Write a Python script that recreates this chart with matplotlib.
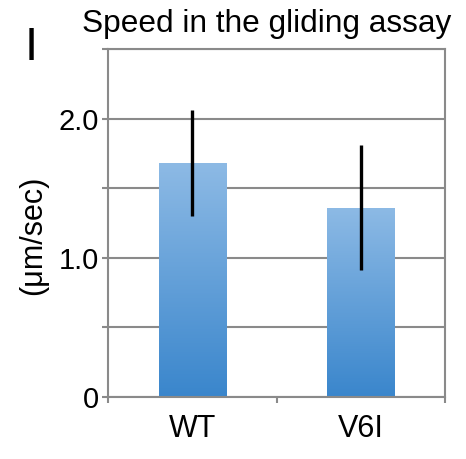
import numpy as np
import matplotlib
matplotlib.use("Agg")
import matplotlib.pyplot as plt
from matplotlib.colors import LinearSegmentedColormap

plt.rcParams["font.family"] = ["Liberation Sans", "DejaVu Sans"]

# data
categories = ["WT", "V6I"]
speed = [1.68, 1.36]
speed_err = [0.38, 0.45]
y_ticks = [0, 0.5, 1.0, 1.5, 2.0, 2.5]
y_ticklabels = ["0", "", "1.0", "", "2.0", ""]

GRID = "#8a8a8a"
grad = LinearSegmentedColormap.from_list("bar", ["#3a86cc", "#8dbae5"])

fig = plt.figure(figsize=(4.66, 4.59), dpi=100)
ax = fig.add_axes([0.2318, 0.1351, 0.7232, 0.7582])

x = np.arange(len(categories))
bars = ax.bar(x, speed, width=0.4, color="none", edgecolor="none", zorder=2)
grad_img = np.linspace(0, 1, 256).reshape(-1, 1)
for b in bars:
    x0, w, h = b.get_x(), b.get_width(), b.get_height()
    im = ax.imshow(grad_img, cmap=grad, origin="lower", aspect="auto",
                   extent=(x0, x0 + w, 0, h), zorder=2)
    im.set_clip_path(b)
ax.errorbar(x, speed, yerr=speed_err, fmt="none", ecolor="black", elinewidth=2.4,
            capsize=0, zorder=3)

ax.set_xlim(-0.5, len(categories) - 0.5)
ax.set_ylim(0, 2.5)
ax.set_yticks(y_ticks)
ax.set_yticklabels(y_ticklabels, fontsize=21)
ax.set_xticks(x)
ax.set_xticklabels(categories, fontsize=22)
ax.set_xticks([-0.5, 0.5, 1.5], minor=True)
ax.tick_params(axis="x", which="major", length=0, pad=12)
ax.tick_params(axis="x", which="minor", length=4.5, color=GRID, width=1.5)
ax.tick_params(axis="y", length=4.5, color=GRID, width=1.5, pad=2)
ax.yaxis.grid(True, color=GRID, lw=1.5, zorder=0)
ax.set_axisbelow(True)
for s in ax.spines.values():
    s.set_color(GRID)
    s.set_linewidth(1.5)

fig.text(33 / 466, 1 - 235 / 459, "(μm/sec)", fontsize=22, rotation=90,
         ha="center", va="center")
fig.text(0.572, 1 - 32 / 459, "Speed in the gliding assay", fontsize=22.8,
         ha="center", va="baseline")
fig.text(0.067, 1 - 60 / 459, "I", fontsize=34, ha="center", va="baseline")

fig.savefig("out.png", dpi=100)
